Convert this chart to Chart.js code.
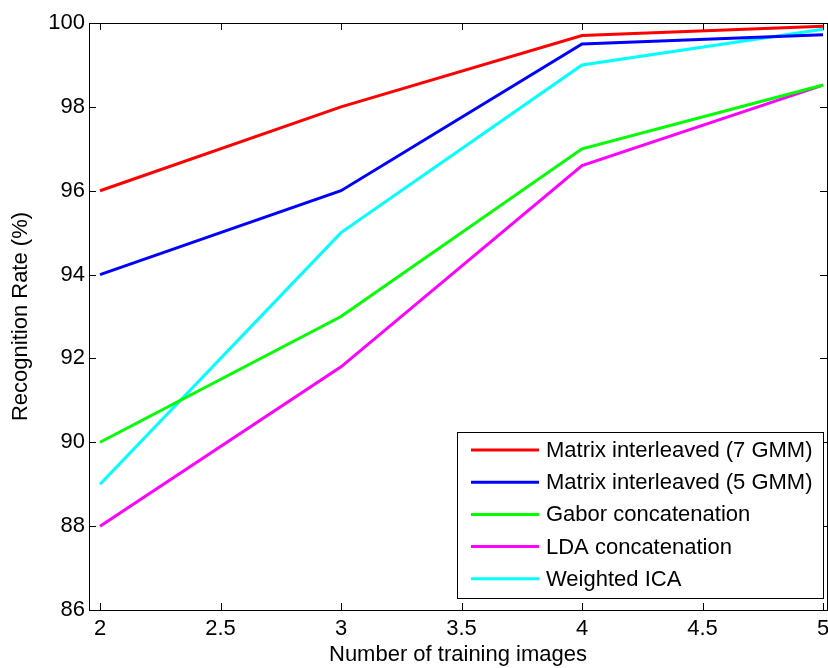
<!DOCTYPE html>
<html>
<head>
<meta charset="utf-8">
<script src="https://cdn.jsdelivr.net/npm/chart.js@4/dist/chart.umd.min.js"></script>
<style>
  html, body { margin: 0; padding: 0; background: #fff; }
  #wrap { width: 828px; height: 668px; position: relative; }
</style>
</head>
<body>
<div id="wrap"><canvas id="chartRate"></canvas></div>
<script>
// training images on the x axis
const trainImages = [2, 3, 4, 5];
const xTicks = [2, 2.5, 3, 3.5, 4, 4.5, 5];
const yTicks = [86, 88, 90, 92, 94, 96, 98, 100];

const seriesNames = [
  'Matrix interleaved (7 GMM)',
  'Matrix interleaved (5 GMM)',
  'Gabor concatenation',
  'LDA concatenation',
  'Weighted ICA'
];
const mi7 = [96, 98, 99.7, 99.92];
const mi5 = [94, 96, 99.5, 99.72];
const gabor = [90, 93, 97, 98.52];
const lda = [88, 91.8, 96.6, 98.52];
const wica = [89, 95, 99, 99.85];
const seriesColors = ['#ff0000', '#0000ff', '#00ff00', '#ff00ff', '#00ffff'];

const allSeries = [mi7, mi5, gabor, lda, wica];
const FONT = 'Liberation Sans, Arial, sans-serif';
const FSIZE = 22;

// MATLAB style: box, inward ticks on all four sides
const boxTicks = {
  id: 'boxTicks',
  afterDatasetsDraw(chart) {
    const { ctx, chartArea: a, scales } = chart;
    ctx.save();
    ctx.strokeStyle = '#000';
    ctx.lineWidth = 1;
    const len = 7;
    ctx.beginPath();
    xTicks.forEach(v => {
      const px = Math.round(scales.x.getPixelForValue(v)) + 0.5;
      ctx.moveTo(px, a.bottom); ctx.lineTo(px, a.bottom - len);
      ctx.moveTo(px, a.top); ctx.lineTo(px, a.top + len);
    });
    yTicks.forEach(v => {
      const py = Math.round(scales.y.getPixelForValue(v)) + 0.5;
      ctx.moveTo(a.left, py); ctx.lineTo(a.left + len, py);
      ctx.moveTo(a.right, py); ctx.lineTo(a.right - len, py);
    });
    ctx.stroke();
    ctx.strokeRect(Math.round(a.left) + 0.5, Math.round(a.top) + 0.5,
      Math.round(a.right - a.left), Math.round(a.bottom - a.top));
    ctx.restore();
  },
  afterDraw(chart) {
    // legend box in the lower right corner
    const { ctx } = chart;
    const bx = 457, by = 432, bw = 366, bh = 166;
    ctx.save();
    ctx.fillStyle = '#fff';
    ctx.fillRect(bx, by, bw, bh);
    ctx.strokeStyle = '#000';
    ctx.lineWidth = 1;
    ctx.strokeRect(bx + 0.5, by + 0.5, bw, bh);
    ctx.font = FSIZE + 'px ' + FONT;
    ctx.textBaseline = 'middle';
    chart.data.datasets.forEach((ds, i) => {
      const y = 450 + i * 32.2;
      ctx.strokeStyle = ds.borderColor;
      ctx.lineWidth = 3;
      ctx.beginPath();
      ctx.moveTo(471, y); ctx.lineTo(539, y);
      ctx.stroke();
      ctx.fillStyle = '#000';
      ctx.fillText(ds.label, 546, y + 1);
    });
    ctx.restore();
  }
};

const ctx = document.getElementById('chartRate').getContext('2d');
new Chart(ctx, {
  type: 'line',
  data: {
    datasets: allSeries.map((vals, i) => ({
      label: seriesNames[i],
      data: trainImages.map((x, j) => ({ x: x, y: vals[j] })),
      borderColor: seriesColors[i],
      backgroundColor: seriesColors[i],
      borderWidth: 3,
      pointRadius: 0,
      tension: 0
    }))
  },
  options: {
    responsive: true,
    maintainAspectRatio: false,
    animation: false,
    layout: { padding: { top: 23, right: 1, left: 0, bottom: 0 } },
    plugins: { legend: { display: false }, tooltip: { enabled: false } },
    scales: {
      x: {
        type: 'linear',
        min: 1.9543,
        max: 5.0166,
        afterBuildTicks: s => { s.ticks = xTicks.map(v => ({ value: v })); },
        afterFit: s => { s.height = 58; s.paddingLeft = 0; s.paddingRight = 0; },
        grid: { display: false, drawTicks: false },
        border: { display: false },
        ticks: { color: '#000', font: { family: FONT, size: FSIZE }, padding: 6, maxRotation: 0,
                 callback: v => String(v) },
        title: { display: true, text: 'Number of training images', color: '#000',
                 font: { family: FONT, size: FSIZE }, padding: { top: 0, bottom: 0 } }
      },
      y: {
        min: 86,
        max: 100,
        afterBuildTicks: s => { s.ticks = yTicks.map(v => ({ value: v })); },
        afterFit: s => { s.width = 89; s.paddingTop = 0; s.paddingBottom = 0; },
        grid: { display: false, drawTicks: false },
        border: { display: false },
        ticks: { color: '#000', font: { family: FONT, size: FSIZE }, padding: 4 },
        title: { display: true, text: 'Recognition Rate (%)', color: '#000',
                 font: { family: FONT, size: FSIZE }, padding: { top: 8, bottom: 0 } }
      }
    }
  },
  plugins: [boxTicks]
});
</script>
</body>
</html>
